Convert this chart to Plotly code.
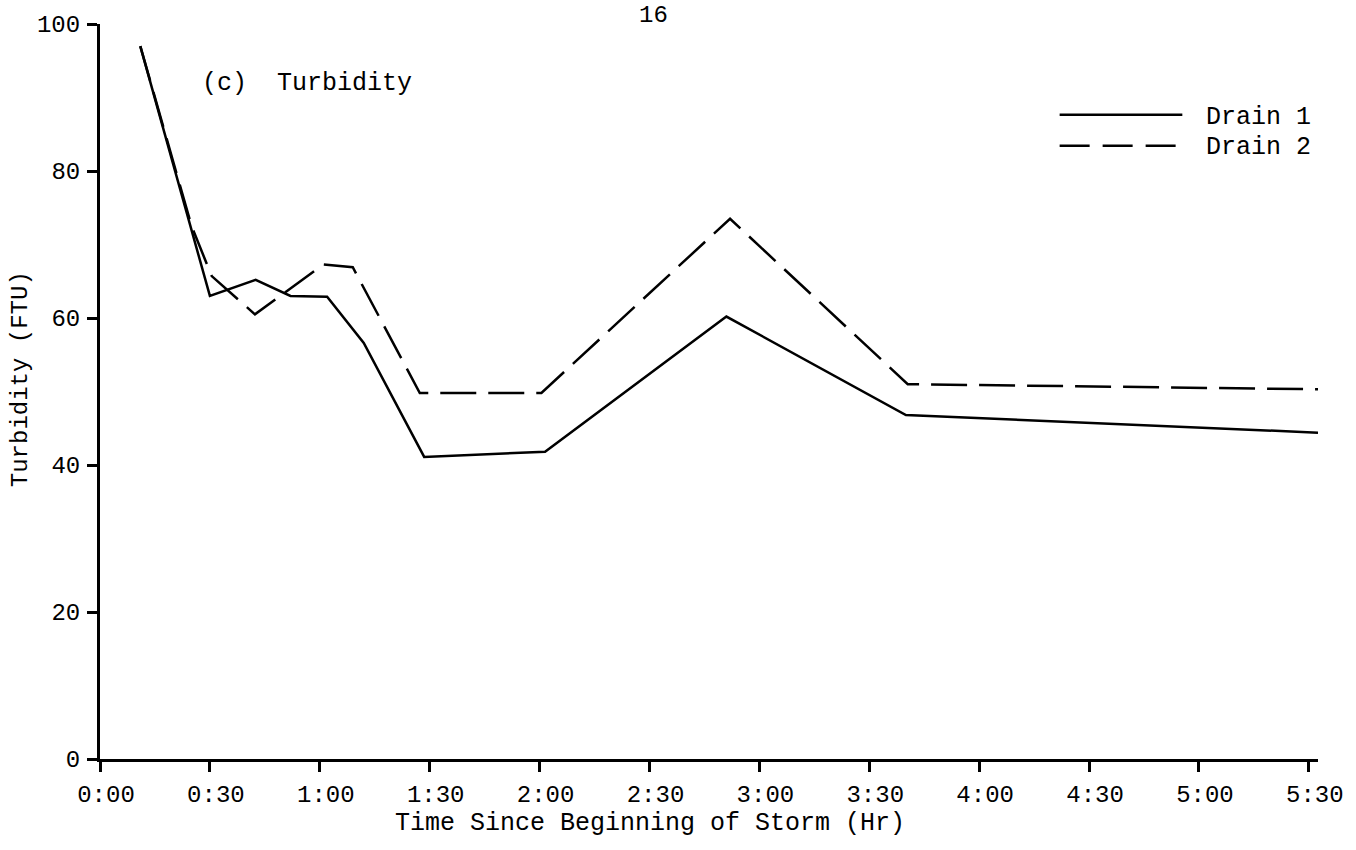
import plotly.graph_objects as go

# ---- data (minutes since beginning of storm, turbidity FTU) ----
drain1_time = [11, 30, 42.5, 52, 62, 72, 88.5, 121.5, 171, 220, 332.5]
drain1_turb = [97, 63, 65.2, 63, 62.9, 56.6, 41.1, 41.8, 60.2, 46.8, 44.4]

drain2_time = [11, 25, 30.5, 42.3, 61, 69, 87.3, 120.5, 172, 220.5, 332.5]
drain2_turb = [97, 72.5, 65.7, 60.5, 67.3, 66.9, 49.8, 49.8, 73.5, 51.0, 50.3]

x_tick_vals = [0, 30, 60, 90, 120, 150, 180, 210, 240, 270, 300, 330]
x_tick_text = ["0:00", "0:30", "1:00", "1:30", "2:00", "2:30", "3:00",
               "3:30", "4:00", "4:30", "5:00", "5:30"]
y_tick_vals = [0, 20, 40, 60, 80, 100]

MONO = "Liberation Mono, DejaVu Sans Mono, monospace"

fig = go.Figure()
fig.add_trace(go.Scatter(x=drain1_time, y=drain1_turb, mode="lines", name="Drain 1",
                         line=dict(color="black", width=2.5), cliponaxis=False,
                         showlegend=False))
fig.add_trace(go.Scatter(x=drain2_time, y=drain2_turb, mode="lines", name="Drain 2",
                         line=dict(color="black", width=2.5, dash="36px,12px"),
                         cliponaxis=False, showlegend=False))

L, R, T, B = 100, 35, 22, 91
W, H = 1356, 850
pw, ph = W - L - R, H - T - B

def px(xp):
    return (xp - L) / pw

def py(yp):
    return (H - B - yp) / ph

fig.update_layout(
    width=W, height=H,
    margin=dict(l=L, r=R, t=T, b=B),
    paper_bgcolor="white", plot_bgcolor="white",
    font=dict(family=MONO, color="black", size=24),
    xaxis=dict(range=[0, 332.5], tickvals=x_tick_vals, ticktext=x_tick_text,
               showgrid=False, zeroline=False, showline=True, linecolor="black",
               linewidth=3, ticks="outside", ticklen=10, tickwidth=3,
               tickcolor="black", tickfont=dict(family=MONO, size=24),
               ticklabelshift=6, ticklabelstandoff=1),
    yaxis=dict(range=[0, 100], tickvals=y_tick_vals,
               showgrid=False, zeroline=False, showline=True, linecolor="black",
               linewidth=3, ticks="outside", ticklen=10, tickwidth=3,
               tickcolor="black", tickfont=dict(family=MONO, size=24),
               ticklabelstandoff=2),
)

annotations = [
    dict(text="(c)  Turbidity", x=px(200), y=py(82), xref="paper", yref="paper",
         xanchor="left", yanchor="middle", showarrow=False,
         font=dict(family=MONO, size=25)),
    dict(text="Time Since Beginning of Storm (Hr)", x=px(651), y=py(824),
         xref="paper", yref="paper", xanchor="center", yanchor="middle",
         showarrow=False, font=dict(family=MONO, size=25)),
    dict(text="Turbidity (FTU)", x=px(20), y=py(378), xref="paper", yref="paper",
         xanchor="center", yanchor="middle", textangle=-90, showarrow=False,
         font=dict(family=MONO, size=24)),
    dict(text="16", x=px(655), y=py(13), xref="paper", yref="paper",
         xanchor="center", yanchor="middle", showarrow=False,
         font=dict(family=MONO, size=24)),
    dict(text="Drain 1", x=px(1207), y=py(116), xref="paper", yref="paper",
         xanchor="left", yanchor="middle", showarrow=False,
         font=dict(family=MONO, size=25)),
    dict(text="Drain 2", x=px(1207), y=py(146), xref="paper", yref="paper",
         xanchor="left", yanchor="middle", showarrow=False,
         font=dict(family=MONO, size=25)),
]
fig.update_layout(annotations=annotations)

shapes = [
    dict(type="line", xref="paper", yref="paper", x0=px(1062), x1=px(1185),
         y0=py(113), y1=py(113), line=dict(color="black", width=2.5)),
    dict(type="line", xref="paper", yref="paper", x0=px(1062), x1=px(1185),
         y0=py(144), y1=py(144), line=dict(color="black", width=2.5, dash="30px,13px")),
]
fig.update_layout(shapes=shapes)

fig.write_html("out.html", config={"displayModeBar": False},
               post_script="document.body.style.margin='0px';")
